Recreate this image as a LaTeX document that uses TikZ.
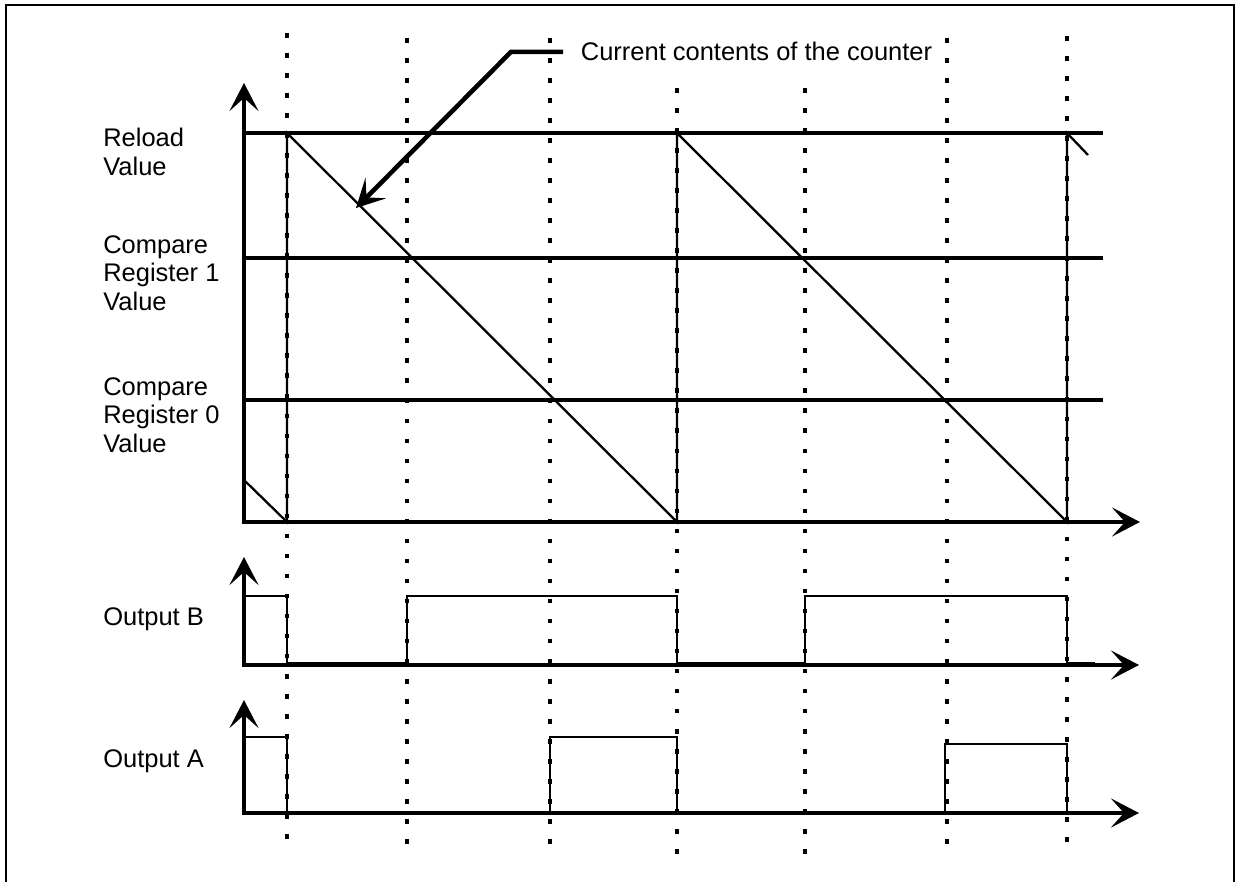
\documentclass[tikz,border=0pt]{standalone}
\usepackage{fontspec}
\setmainfont{Liberation Sans}
\usetikzlibrary{arrows.meta}

\begin{document}
\begin{tikzpicture}[x=0.02cm, y=-0.02cm, >={Stealth[length=0.56cm, width=0.58cm, inset=0.26cm]},
        lbl/.style={font=\fontsize{14.5pt}{16.3pt}\selectfont, inner sep=0pt, align=left},
        axis/.style={line width=2.6pt},
        level/.style={line width=1.8pt},
        trace/.style={line width=1.3pt},
        tickline/.style={line width=2pt, dash pattern=on 2.6pt off 8.8pt}]
            \useasboundingbox (0,0) rectangle (1242,882);
            \draw[line width=1.6pt] (6,882) -- (6,5) -- (1234,5) -- (1234,882);

            \draw[tickline] (287,33) -- (287,849);
            \draw[tickline] (407,38) -- (407,855);
            \draw[tickline] (550,38) -- (550,855);
            \draw[tickline] (677,88) -- (677,855);
            \draw[tickline] (805,88) -- (805,855);
            \draw[tickline] (947,38) -- (947,855);
            \draw[tickline] (1067,36) -- (1067,851);

            \node[lbl, anchor=west] (reload) at (103,152) {Reload\\Value};
            \node[lbl, anchor=west] (cmp1) at (103,273) {Compare\\Register 1\\Value};
            \node[lbl, anchor=west] (cmp0) at (103,415) {Compare\\Register 0\\Value};
            \node[lbl, anchor=base west] (outb) at (103,625) {Output B};
            \node[lbl, anchor=base west] (outa) at (103,767) {Output A};
            \node[lbl, anchor=base west, inner xsep=10pt] (cnt) at (563,61) {Current contents of the counter};

            \draw[level] (244,133) -- (1103,133);
            \draw[level] (244,258) -- (1103,258);
            \draw[level] (244,400) -- (1103,400);

            \draw[trace] (244,480) -- (287,522) -- (287,133) -- (677,522) -- (677,133) -- (1067,522) -- (1067,133) -- (1088,155);
            \coordinate (ramp) at (356,208);
            \draw[axis, ->] (cnt.west) -- ++(-52,0) -- (ramp);

            \draw[axis, <->] (244,83) -- (244,522) -- (1140,522);

            \draw[trace] (244,596) -- (287,596) -- (287,663) -- (407,663) -- (407,596) -- (677,596) -- (677,663) -- (805,663) -- (805,596) -- (1067,596) -- (1067,663) -- (1095,663);
            \draw[axis, <->] (244,557) -- (244,665) -- (1139,665);

            \draw[trace] (244,737) -- (287,737) -- (287,813);
            \draw[trace] (550,813) -- (550,737) -- (677,737) -- (677,813);
            \draw[trace] (945,813) -- (945,744) -- (1067,744) -- (1067,813);
            \draw[axis, <->] (244,700) -- (244,813) -- (1139,813);
        \end{tikzpicture}
\end{document}
